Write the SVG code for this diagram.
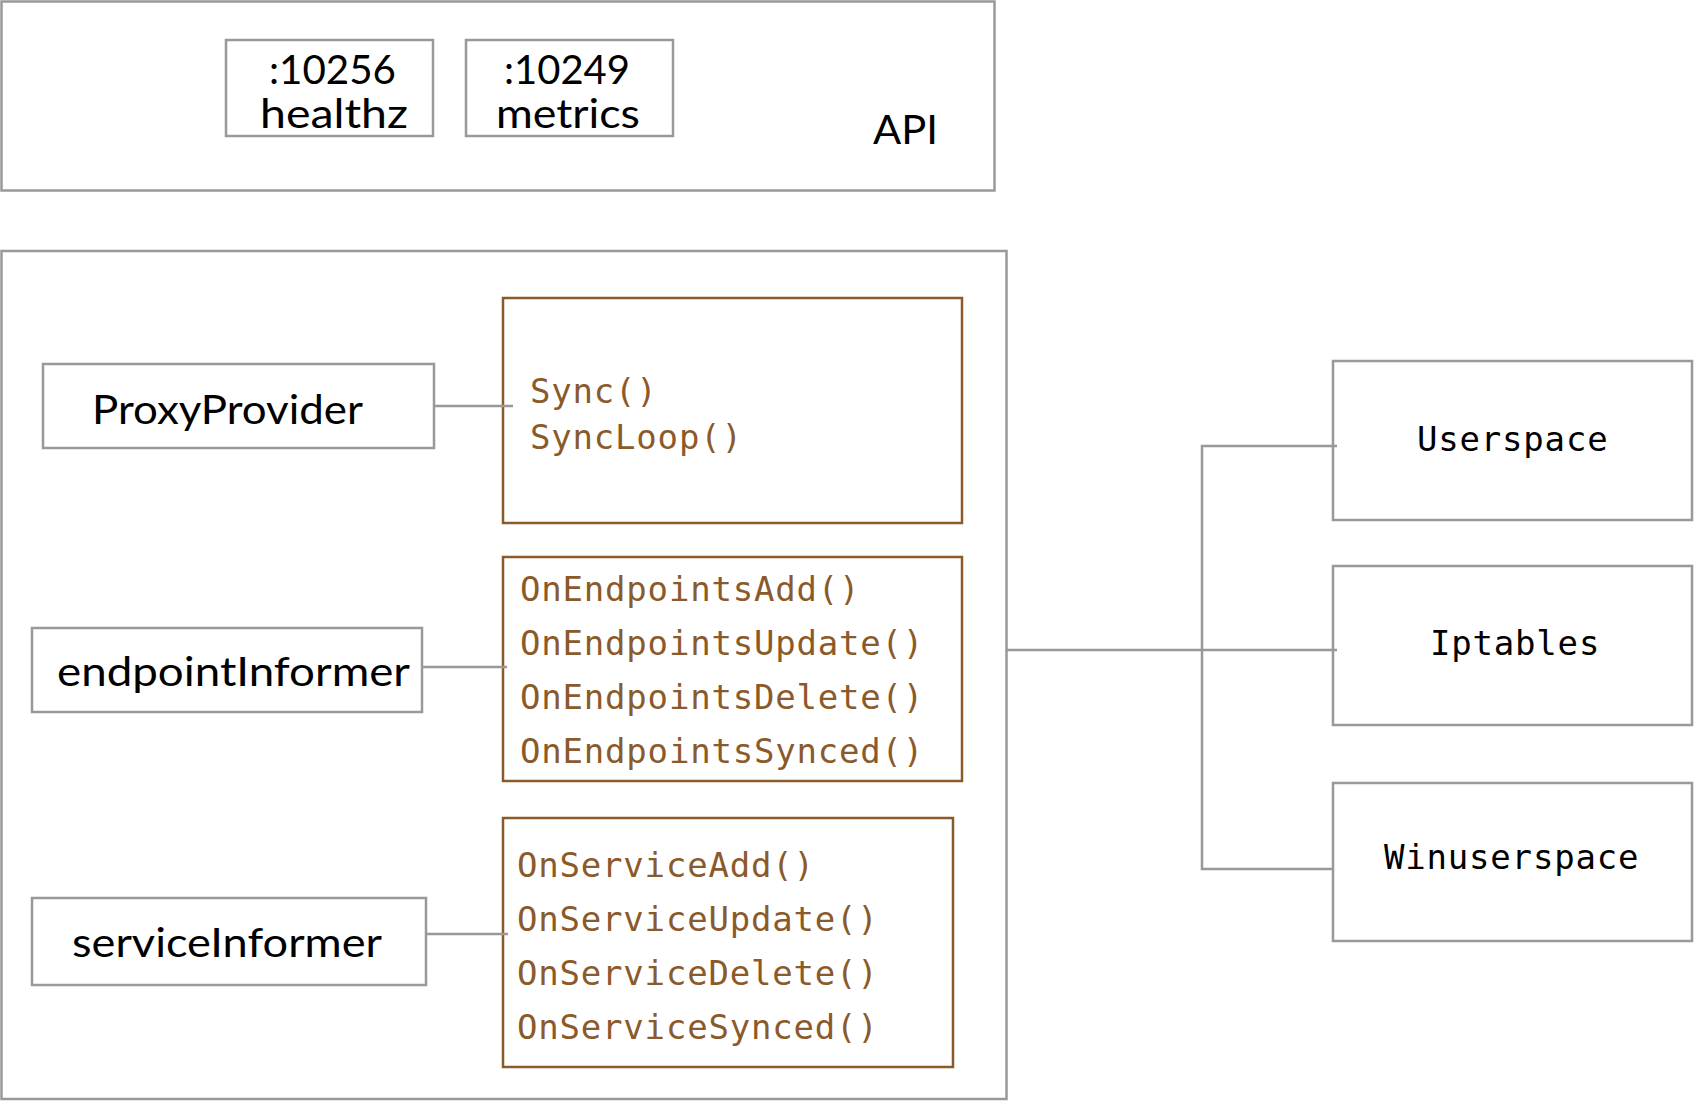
<svg xmlns="http://www.w3.org/2000/svg" width="1695" height="1101" viewBox="0 0 1695 1101">
<style>
.g{fill:#fff;stroke:#999;stroke-width:2.5}
.b{fill:#fff;stroke:#8b5a2b;stroke-width:2.5}
.c{fill:none;stroke:#999;stroke-width:2.5}
.s{font-family:"Lato","Liberation Sans",sans-serif;font-size:40px;fill:#000}
.m{font-family:"DejaVu Sans Mono","Liberation Mono",monospace;font-size:34px;letter-spacing:0.8px;fill:#8b5a2b}
.k{font-family:"DejaVu Sans Mono","Liberation Mono",monospace;font-size:34px;letter-spacing:0.8px;fill:#000}
</style>
<rect width="1695" height="1101" fill="#fff"/>
<g id="api">
<rect class="g" x="1.5" y="1.5" width="993" height="189"/>
<text class="s" x="873" y="144" textLength="65" lengthAdjust="spacingAndGlyphs">API</text>
</g>
<g id="healthz">
<rect class="g" x="226" y="40" width="207" height="96"/>
<text class="s" x="269" y="84" textLength="127" lengthAdjust="spacingAndGlyphs">:10256</text>
<text class="s" x="260" y="128" textLength="148" lengthAdjust="spacingAndGlyphs">healthz</text>
</g>
<g id="metrics">
<rect class="g" x="466" y="40" width="207" height="96"/>
<text class="s" x="504" y="84" textLength="126" lengthAdjust="spacingAndGlyphs">:10249</text>
<text class="s" x="496" y="128" textLength="144" lengthAdjust="spacingAndGlyphs">metrics</text>
</g>
<g id="proxy">
<rect class="g" x="1.5" y="251" width="1005" height="848"/>
</g>
<g id="ProxyProvider">
<rect class="g" x="43" y="364" width="391" height="84"/>
<text class="s" x="92" y="424" textLength="271" lengthAdjust="spacingAndGlyphs">ProxyProvider</text>
</g>
<g id="sync">
<rect class="b" x="503" y="298" width="459" height="225"/>
<text class="m" x="530" y="403">Sync()</text>
<text class="m" x="530" y="449">SyncLoop()</text>
</g>
<g id="endpointInformer">
<rect class="g" x="32" y="628" width="390" height="84"/>
<text class="s" x="57" y="686" textLength="353" lengthAdjust="spacingAndGlyphs">endpointInformer</text>
</g>
<g id="endpointHandlers">
<rect class="b" x="503" y="557" width="459" height="224"/>
<text class="m" x="520" y="601">OnEndpointsAdd()</text>
<text class="m" x="520" y="655">OnEndpointsUpdate()</text>
<text class="m" x="520" y="709">OnEndpointsDelete()</text>
<text class="m" x="520" y="763">OnEndpointsSynced()</text>
</g>
<g id="serviceInformer">
<rect class="g" x="32" y="898" width="394" height="87"/>
<text class="s" x="72" y="957" textLength="310" lengthAdjust="spacingAndGlyphs">serviceInformer</text>
</g>
<g id="serviceHandlers">
<rect class="b" x="503" y="818" width="450" height="249"/>
<text class="m" x="517" y="877">OnServiceAdd()</text>
<text class="m" x="517" y="931">OnServiceUpdate()</text>
<text class="m" x="517" y="985">OnServiceDelete()</text>
<text class="m" x="517" y="1039">OnServiceSynced()</text>
</g>
<g id="Userspace">
<rect class="g" x="1333" y="361" width="359" height="159"/>
<text class="k" x="1417" y="451">Userspace</text>
</g>
<g id="Iptables">
<rect class="g" x="1333" y="566" width="359" height="159"/>
<text class="k" x="1430" y="655">Iptables</text>
</g>
<g id="Winuserspace">
<rect class="g" x="1333" y="783" width="359" height="158"/>
<text class="k" x="1384" y="869">Winuserspace</text>
</g>
<g id="connectors">
<line class="c" x1="434" y1="406" x2="513" y2="406"/>
<line class="c" x1="423" y1="667" x2="507" y2="667"/>
<line class="c" x1="426" y1="934" x2="508" y2="934"/>
<line class="c" x1="1007" y1="650" x2="1337" y2="650"/>
<polyline class="c" points="1337,446 1202,446 1202,869 1333,869"/>
</g>
</svg>
